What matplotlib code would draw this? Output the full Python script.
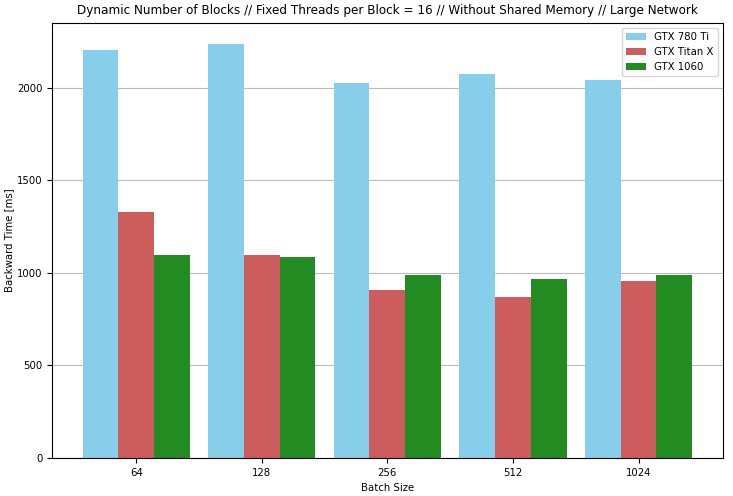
import numpy as np
import matplotlib
matplotlib.use('Agg')
import matplotlib.pyplot as plt

batch_sizes = ["64", "128", "256", "512", "1024"]
gtx_780ti = [2205, 2238, 2027, 2075, 2043]
gtx_titanx = [1330, 1097, 908, 870, 957]
gtx_1060 = [1097, 1085, 989, 967, 989]

x = np.arange(len(batch_sizes))
w = 0.285

fig, ax = plt.subplots(figsize=(7.33, 4.96), dpi=100)
fig.subplots_adjust(left=0.071, right=0.986, top=0.954, bottom=0.077)

ax.bar(x - w, gtx_780ti, w, color='skyblue', label='GTX 780 Ti')
ax.bar(x, gtx_titanx, w, color='indianred', label='GTX Titan X')
ax.bar(x + w, gtx_1060, w, color='forestgreen', label='GTX 1060')

ax.set_xticks(x)
ax.set_xticklabels(batch_sizes)
ax.tick_params(labelsize=7.3)
ax.set_xlabel("Batch Size", fontsize=7.3)
ax.set_ylabel("Backward Time [ms]", fontsize=7.3, labelpad=2)
ax.set_title("Dynamic Number of Blocks // Fixed Threads per Block = 16 // Without Shared Memory // Large Network",
             fontsize=8.65)
ax.yaxis.grid(True, color='#bbbbbb')
ax.set_axisbelow(True)
ax.legend(loc='upper right', fontsize=7.3)

plt.savefig("out.png")
plt.close()
